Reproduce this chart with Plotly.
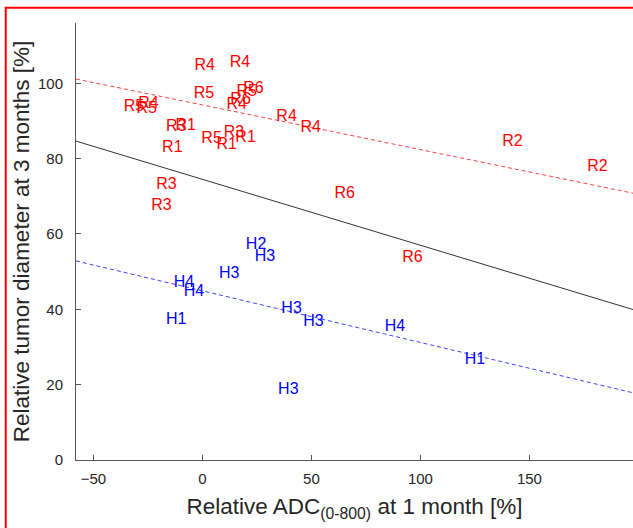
import numpy as np
import plotly.graph_objects as go

# ---- data ----
red_labels = ["R4", "R4", "R5", "R5", "R4", "R5", "R6", "R5", "R6", "R4",
              "R3", "R1", "R5", "R3", "R1", "R1", "R1", "R4", "R4", "R2",
              "R2", "R6", "R6", "R3", "R3"]
red_x = [-3.7, 12.5, -4.0, -36.1, -29.5, -30.3, 18.7, 15.6, 12.8, 11.0,
         -16.7, -12.4, -0.5, 9.8, 15.1, 6.4, -18.5, 33.9, 45.0, 137.5,
         176.5, 60.6, 91.6, -21.2, -23.5]
red_y = [104.6, 105.4, 97.2, 93.6, 94.4, 93.3, 98.6, 97.7, 95.5, 94.2,
         88.4, 88.7, 85.3, 86.9, 85.5, 83.6, 82.9, 91.1, 88.2, 84.4,
         77.8, 70.7, 53.5, 72.9, 67.4]

blue_labels = ["H4", "H4", "H1", "H3", "H2", "H3", "H3", "H3", "H3", "H4", "H1"]
blue_x = [-13.2, -8.6, -16.7, 7.6, 19.9, 24.0, 36.2, 46.2, 34.7, 83.6, 120.3]
blue_y = [46.9, 44.6, 37.1, 49.5, 57.0, 53.9, 40.2, 36.7, 18.6, 35.4, 26.5]

# fitted lines: intercept (at x=0) and slope
red_fit = (94.25, -0.1186)
blue_fit = (44.9, -0.137)
all_fit = (74.5, -0.175)

x_range = [-58, 197.5]
y_range = [0, 116]
x_ticks = [-50, 0, 50, 100, 150]
y_ticks = [0, 20, 40, 60, 80, 100]

FONT = "Liberation Sans, Arial, Helvetica, sans-serif"

fig = go.Figure()

xl = np.array(x_range)
for (b, m), col, dash in [(red_fit, "rgba(255,0,0,0.75)", "4px,3px"),
                          (blue_fit, "rgba(0,0,255,0.75)", "4px,3px"),
                          (all_fit, "#333333", "solid")]:
    fig.add_trace(go.Scatter(x=xl, y=b + m * xl, mode="lines",
                             line=dict(color=col, width=1, dash=dash),
                             hoverinfo="skip", showlegend=False))

fig.add_trace(go.Scatter(x=red_x, y=red_y, text=red_labels, mode="text",
                         textposition="middle right",
                         textfont=dict(color="#ff0000", size=16, family=FONT),
                         showlegend=False))
fig.add_trace(go.Scatter(x=blue_x, y=blue_y, text=blue_labels, mode="text",
                         textposition="middle right",
                         textfont=dict(color="#0000ff", size=16, family=FONT),
                         showlegend=False))

axis_common = dict(showgrid=False, zeroline=False, showline=True,
                   linecolor="#555555", linewidth=1, ticks="inside",
                   ticklen=5, tickcolor="#555555",
                   tickfont=dict(size=15, color="#262626", family=FONT))

fig.update_xaxes(range=x_range, tickvals=x_ticks, ticklabelstandoff=5,
                 title=dict(text="Relative ADC<sub>(0-800)</sub> at 1 month [%]",
                            font=dict(size=22.5, color="#262626", family=FONT),
                            standoff=12),
                 **axis_common)
fig.update_yaxes(range=y_range, tickvals=y_ticks, ticklabelstandoff=9,
                 title=dict(text="Relative tumor diameter at 3 months [%]",
                            font=dict(size=22.5, color="#262626", family=FONT),
                            standoff=2),
                 **axis_common)

fig.add_shape(type="rect", xref="paper", yref="paper",
              x0=-0.1262, x1=1.2, y0=-0.4, y1=1.035,
              line=dict(color="#ff0000", width=2), fillcolor="rgba(0,0,0,0)")

fig.update_layout(width=633, height=528,
                  margin=dict(l=76, r=0, t=23, b=68),
                  paper_bgcolor="white", plot_bgcolor="white",
                  font=dict(family=FONT))

fig.write_html("out.html",
               config={"displayModeBar": False},
               post_script="document.body.style.margin='0';"
                           "document.body.style.overflow='hidden';")
